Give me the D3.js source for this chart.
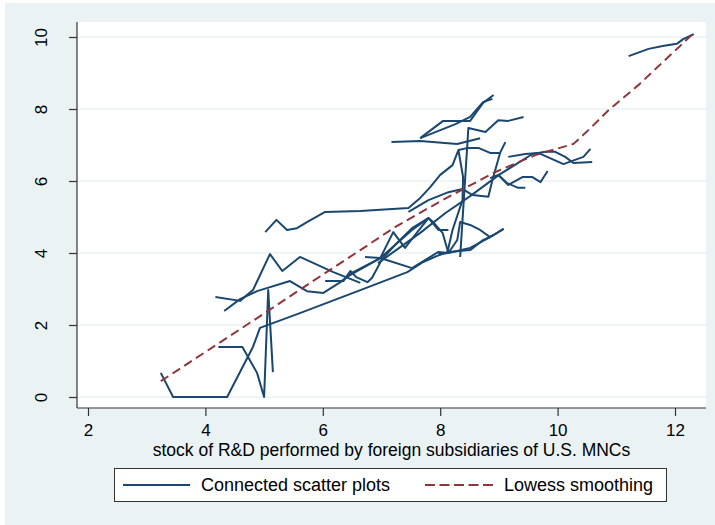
<!DOCTYPE html>
<html>
<head>
<meta charset="utf-8">
<script src="https://cdn.jsdelivr.net/npm/d3@7"></script>
<style>
  body { margin: 0; background: #ffffff; }
  text { font-family: "Liberation Sans", Arial, sans-serif; fill: #000; }
</style>
</head>
<body>
<script>
// chart data: each connected series is one x array and one y array
var s01x = [3.24, 3.45, 4.37, 4.81, 4.93, 5.61, 6.64, 7.44, 7.71, 7.95, 8.14, 8.51, 8.73, 8.91, 9.08];
var s01y = [0.67, 0, 0, 1.39, 1.92, 2.33, 2.97, 3.47, 3.75, 3.92, 4.03, 4.08, 4.36, 4.50, 4.67];
var s02x = [4.22, 4.63, 4.88, 5.00, 5.07, 5.15];
var s02y = [1.39, 1.39, 0.67, 0, 2.97, 0.69];
var s03x = [4.17, 4.59, 4.81, 5.10, 5.31, 5.61, 6.18, 6.64];
var s03y = [2.78, 2.67, 2.97, 3.97, 3.50, 3.89, 3.47, 3.17];
var s04x = [4.32, 4.59, 4.88, 5.44, 5.73, 6.01, 6.30, 6.52, 6.98, 7.20, 7.40, 7.61, 7.80];
var s04y = [2.39, 2.72, 2.94, 3.22, 2.94, 2.89, 3.19, 3.47, 3.86, 4.58, 4.14, 4.58, 4.97];
var s05x = [6.04, 6.35, 6.47, 6.57, 6.76, 6.84, 7.01, 7.23, 7.52, 7.80, 7.97, 8.14];
var s05y = [3.22, 3.22, 3.50, 3.33, 3.19, 3.31, 3.83, 4.22, 4.69, 4.97, 4.64, 4.64];
var s06x = [5.02, 5.21, 5.39, 5.56, 5.73, 6.04, 6.64, 7.46, 7.66, 7.83, 8.00, 8.21, 8.31, 8.39, 8.38, 8.21, 8.12];
var s06y = [4.58, 4.92, 4.64, 4.69, 4.86, 5.14, 5.17, 5.25, 5.53, 5.83, 6.17, 6.44, 6.86, 6.11, 5.47, 4.64, 4.00];
var s07x = [7.17, 7.66, 8.29, 8.68];
var s07y = [7.08, 7.11, 7.03, 7.19];
var s08x = [7.66, 8.05, 8.51, 8.73, 8.91];
var s08y = [7.19, 7.67, 7.67, 8.17, 8.39];
var s09x = [7.66, 8.26, 8.51, 8.73, 8.89];
var s09y = [7.19, 7.58, 7.78, 8.19, 8.28];
var s10x = [8.34, 8.48, 8.77, 8.99, 9.16, 9.42];
var s10y = [3.89, 7.47, 7.36, 7.69, 7.67, 7.78];
var s11x = [8.31, 8.48, 8.65, 8.85, 9.01];
var s11y = [6.86, 6.92, 6.92, 6.78, 6.78];
var s12x = [7.46, 7.80, 8.14, 8.38, 8.55, 8.82, 8.89, 9.02, 9.11];
var s12y = [5.14, 5.47, 5.69, 5.78, 5.61, 5.56, 6.03, 6.78, 7.08];
var s13x = [6.94, 7.66, 8.09, 8.51, 9.02, 9.57, 9.79, 9.96, 10.13, 10.27, 10.59];
var s13y = [3.72, 4.56, 5.11, 5.58, 6.19, 6.75, 6.81, 6.81, 6.67, 6.50, 6.53];
var s14x = [9.16, 9.45, 9.67, 10.10, 10.25, 10.44, 10.56];
var s14y = [6.67, 6.75, 6.78, 6.47, 6.56, 6.67, 6.89];
var s15x = [8.85, 8.99, 9.16, 9.40, 9.57, 9.71, 9.83];
var s15y = [6.08, 6.17, 5.89, 6.11, 6.11, 5.97, 6.28];
var s16x = [8.99, 9.14, 9.33, 9.45];
var s16y = [6.17, 5.94, 5.81, 5.81];
var s17x = [6.72, 6.98, 7.52, 7.97, 8.14, 8.51, 8.85];
var s17y = [3.89, 3.86, 3.58, 4.03, 4.00, 4.14, 4.44];
var s18x = [6.38, 6.98, 7.52, 7.80, 7.88, 8.04, 8.14];
var s18y = [3.31, 3.86, 4.64, 4.97, 4.86, 4.56, 4.00];
var s19x = [7.97, 8.14, 8.29, 8.34, 8.51, 8.68, 8.85, 9.08];
var s19y = [3.97, 4.00, 4.36, 4.86, 4.78, 4.64, 4.44, 4.67];
var s20x = [11.21, 11.55, 11.79, 12.03, 12.14, 12.32];
var s20y = [9.47, 9.67, 9.75, 9.81, 9.94, 10.08];

var connectedSeries = [
    [s01x, s01y], [s02x, s02y], [s03x, s03y], [s04x, s04y], [s05x, s05y],
    [s06x, s06y], [s07x, s07y], [s08x, s08y], [s09x, s09y], [s10x, s10y],
    [s11x, s11y], [s12x, s12y], [s13x, s13y], [s14x, s14y], [s15x, s15y],
    [s16x, s16y], [s17x, s17y], [s18x, s18y], [s19x, s19y], [s20x, s20y]
];

// lowess smoothing line
var lowessX = [3.24, 4.0, 5.0, 6.0, 6.64, 7.23, 8.04, 8.94, 9.62, 10.27, 10.53, 10.87, 11.38, 12.32];
var lowessY = [0.44, 1.25, 2.32, 3.40, 4.08, 4.72, 5.47, 6.25, 6.72, 7.03, 7.42, 7.97, 8.67, 10.11];

var xTicks = [2, 4, 6, 8, 10, 12];
var yTicks = [0, 2, 4, 6, 8, 10];
var xTitle = "stock of R&D performed by foreign subsidiaries of U.S. MNCs";
var legendLabels = ["Connected scatter plots", "Lowess smoothing"];

// sizes
var svgWidth = 715;
var svgHeight = 525;
var plotBox = { left: 77, right: 706, top: 22, bottom: 408 };
var navy = "#1a476f";
var red = "#90353b";
var bgColor = "#eaf2f3";

var svg = d3.select("body")
    .append("svg")
    .attr("width", svgWidth)
    .attr("height", svgHeight);

// outer graph region
svg.append("rect")
    .attr("x", 5).attr("y", 3)
    .attr("width", svgWidth - 5).attr("height", svgHeight - 3)
    .attr("fill", bgColor);

// plot region
svg.append("rect")
    .attr("x", plotBox.left).attr("y", plotBox.top)
    .attr("width", plotBox.right - plotBox.left)
    .attr("height", plotBox.bottom - plotBox.top)
    .attr("fill", "#ffffff");

var xScale = d3.scaleLinear().domain([2, 12]).range([88, 675]);
var yScale = d3.scaleLinear().domain([0, 10]).range([397, 37]);

// horizontal grid lines
svg.append("g")
    .selectAll("line")
    .data(yTicks)
    .enter()
    .append("line")
    .attr("x1", plotBox.left).attr("x2", plotBox.right)
    .attr("y1", d => yScale(d)).attr("y2", d => yScale(d))
    .attr("stroke", bgColor)
    .attr("stroke-width", 1.5);

// y axis
var yAxis = d3.axisLeft(yScale).tickValues(yTicks).tickSize(8).tickPadding(0).tickFormat(d3.format("d"));
var yAxisGroup = svg.append("g")
    .attr("transform", `translate(${plotBox.left}, 0)`)
    .call(yAxis);
yAxisGroup.select(".domain").remove();
yAxisGroup.selectAll(".tick line").attr("stroke", "#333").attr("stroke-width", 1.2);
yAxisGroup.selectAll(".tick text")
    .attr("font-size", 17)
    .attr("text-anchor", "middle")
    .attr("dx", null).attr("dy", null)
    .attr("x", null)
    .attr("transform", "translate(-30, 0) rotate(-90)");

// x axis
var xAxis = d3.axisBottom(xScale).tickValues(xTicks).tickSize(8).tickPadding(0).tickFormat(d3.format("d"));
var xAxisGroup = svg.append("g")
    .attr("transform", `translate(0, ${plotBox.bottom})`)
    .call(xAxis);
xAxisGroup.select(".domain").remove();
xAxisGroup.selectAll(".tick line").attr("stroke", "#333").attr("stroke-width", 1.2);
xAxisGroup.selectAll(".tick text")
    .attr("font-size", 17)
    .attr("y", 28).attr("dy", null);

// axis lines
svg.append("line")
    .attr("x1", plotBox.left).attr("x2", plotBox.left)
    .attr("y1", plotBox.top).attr("y2", plotBox.bottom)
    .attr("stroke", "#333").attr("stroke-width", 1.2);
svg.append("line")
    .attr("x1", plotBox.left).attr("x2", plotBox.right)
    .attr("y1", plotBox.bottom).attr("y2", plotBox.bottom)
    .attr("stroke", "#333").attr("stroke-width", 1.2);

// x axis title
svg.append("text")
    .attr("x", (plotBox.left + plotBox.right) / 2)
    .attr("y", 456)
    .attr("text-anchor", "middle")
    .attr("font-size", 17.5)
    .text(xTitle);

// clip to plot region
svg.append("clipPath").attr("id", "plotclip")
    .append("rect")
    .attr("x", plotBox.left).attr("y", plotBox.top)
    .attr("width", plotBox.right - plotBox.left)
    .attr("height", plotBox.bottom - plotBox.top);

var line = d3.line().x(d => xScale(d[0])).y(d => yScale(d[1]));

var marks = svg.append("g").attr("clip-path", "url(#plotclip)");

marks.selectAll(".panel")
    .data(connectedSeries)
    .enter()
    .append("path")
    .classed("panel", true)
    .attr("d", s => line(s[0].map((x, i) => [x, s[1][i]])))
    .attr("fill", "none")
    .attr("stroke", navy)
    .attr("stroke-width", 2)
    .attr("stroke-linejoin", "round");

marks.append("path")
    .attr("d", line(lowessX.map((x, i) => [x, lowessY[i]])))
    .attr("fill", "none")
    .attr("stroke", red)
    .attr("stroke-width", 2)
    .attr("stroke-dasharray", "9,5");

// legend
var legend = svg.append("g");
legend.append("rect")
    .attr("x", 114.5).attr("y", 468.5)
    .attr("width", 552).attr("height", 33)
    .attr("fill", "#ffffff")
    .attr("stroke", "#333").attr("stroke-width", 1);
legend.append("line")
    .attr("x1", 123).attr("x2", 190)
    .attr("y1", 485).attr("y2", 485)
    .attr("stroke", navy).attr("stroke-width", 2);
legend.append("text")
    .attr("x", 201).attr("y", 491)
    .attr("font-size", 18)
    .text(legendLabels[0]);
legend.append("line")
    .attr("x1", 425).attr("x2", 493)
    .attr("y1", 485).attr("y2", 485)
    .attr("stroke", red).attr("stroke-width", 2)
    .attr("stroke-dasharray", "10,4.5");
legend.append("text")
    .attr("x", 504).attr("y", 491)
    .attr("font-size", 18)
    .text(legendLabels[1]);
</script>
</body>
</html>
